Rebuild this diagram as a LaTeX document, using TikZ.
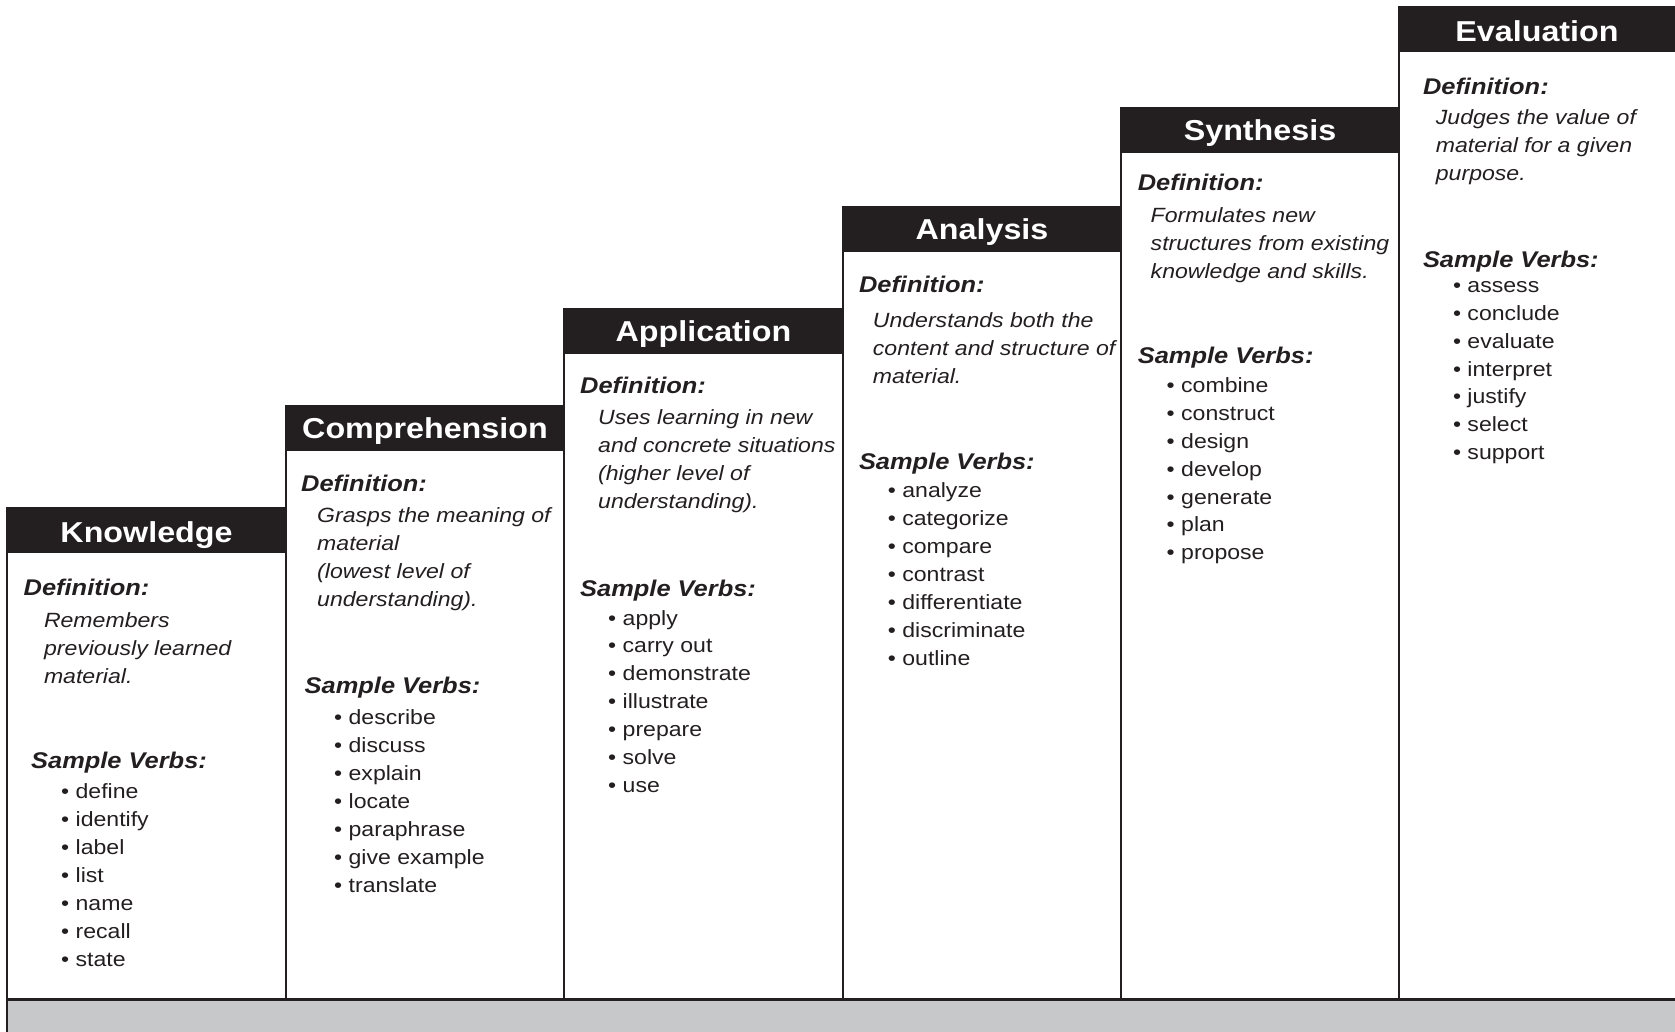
\documentclass[tikz,border=0pt]{standalone}
\usepackage{fontspec}
\setmainfont{Liberation Sans}[FakeStretch=1.12]
\definecolor{ink}{HTML}{231F20}
\definecolor{band}{HTML}{C7C8CA}
\tikzset{
  hdrbox/.style={fill=ink, draw=none},
  hdrtext/.style={text=white, font=\fontsize{28.8}{34}\selectfont\bfseries, inner sep=0pt, anchor=base, yshift=1.5pt},
  deflabel/.style={text=ink, font=\fontsize{22.7}{27}\selectfont\bfseries\itshape, inner sep=0pt, anchor=base west, yshift=-2pt},
  defbody/.style={text=ink, font=\fontsize{20.6}{28}\selectfont\itshape, inner sep=0pt, anchor=north west, align=left,
    execute at begin node={\rule{0pt}{0.8em}}, yshift=14.5pt},
  verblist/.style={text=ink, font=\fontsize{20.6}{27.95}\selectfont, inner sep=0pt, anchor=north west, align=left,
    execute at begin node={\rule{0pt}{0.8em}}, yshift=14.5pt},
  colline/.style={draw=ink, line width=2.5pt},
}
\begin{document}
\begin{tikzpicture}[x=1pt,y=-1pt]
\path[use as bounding box] (0,0) rectangle (1675,1032);
% grey band
\fill[band] (7,999) rectangle (1675,1032);
% headers
\fill[hdrbox] (7,507) rectangle (286,553);
\fill[hdrbox] (286,405) rectangle (564,451);
\fill[hdrbox] (564,308) rectangle (843,354);
\fill[hdrbox] (843,206) rectangle (1121,252);
\fill[hdrbox] (1121,107) rectangle (1399,153);
\fill[hdrbox] (1399,6) rectangle (1675,52);
% column lines
\coordinate (c1t) at (7,507);    \coordinate (c1b) at (7,1032);
\coordinate (c2t) at (286,405);  \coordinate (c2b) at (286,999);
\coordinate (c3t) at (564,308);  \coordinate (c3b) at (564,999);
\coordinate (c4t) at (843,206);  \coordinate (c4b) at (843,999);
\coordinate (c5t) at (1121,107); \coordinate (c5b) at (1121,999);
\coordinate (c6t) at (1399,6);   \coordinate (c6b) at (1399,999);
\coordinate (bandl) at (7,999);  \coordinate (bandr) at (1675,999);
\draw[colline] (c1t) -- (c1b);
\draw[colline] (c2t) -- (c2b);
\draw[colline] (c3t) -- (c3b);
\draw[colline] (c4t) -- (c4b);
\draw[colline] (c5t) -- (c5b);
\draw[colline] (c6t) -- (c6b);
\draw[colline, line width=3pt] (bandl) -- (bandr);
% header texts
\node[hdrtext] (h1) at (146.5,544) {Knowledge};
\node[hdrtext] (h2) at (425,440) {Comprehension};
\node[hdrtext] (h3) at (703.5,343) {Application};
\node[hdrtext] (h4) at (982,241) {Analysis};
\node[hdrtext] (h5) at (1260,142) {Synthesis};
\node[hdrtext] (h6) at (1537,43) {Evaluation};
% column 1
\node[deflabel] (d1) at (23.5,593) {Definition:};
\node[defbody] (b1) at (43.8,626.6) {Remembers\\previously learned\\material.};
\node[deflabel] (s1) at (31,766.4) {Sample Verbs:};
\node[verblist] (v1) at (61,798) {• define\\• identify\\• label\\• list\\• name\\• recall\\• state};
% column 2
\node[deflabel] (d2) at (301,489.8) {Definition:};
\node[defbody] (b2) at (317,521.9) {Grasps the meaning of\\material\\(lowest level of\\understanding).};
\node[deflabel] (s2) at (304.5,691.6) {Sample Verbs:};
\node[verblist] (v2) at (334,723.8) {• describe\\• discuss\\• explain\\• locate\\• paraphrase\\• give example\\• translate};
% column 3
\node[deflabel] (d3) at (580,391.5) {Definition:};
\node[defbody] (b3) at (598,423.6) {Uses learning in new\\and concrete situations\\(higher level of\\understanding).};
\node[deflabel] (s3) at (580,594.4) {Sample Verbs:};
\node[verblist] (v3) at (608,624.4) {• apply\\• carry out\\• demonstrate\\• illustrate\\• prepare\\• solve\\• use};
% column 4
\node[deflabel] (d4) at (858.8,290) {Definition:};
\node[defbody] (b4) at (872.7,326.4) {Understands both the\\content and structure of\\material.};
\node[deflabel] (s4) at (858.8,467.3) {Sample Verbs:};
\node[verblist] (v4) at (887.7,497.3) {• analyze\\• categorize\\• compare\\• contrast\\• differentiate\\• discriminate\\• outline};
% column 5
\node[deflabel] (d5) at (1137.6,188.5) {Definition:};
\node[defbody] (b5) at (1150.5,221.7) {Formulates new\\structures from existing\\knowledge and skills.};
\node[deflabel] (s5) at (1137.6,361.6) {Sample Verbs:};
\node[verblist] (v5) at (1166.5,391.6) {• combine\\• construct\\• design\\• develop\\• generate\\• plan\\• propose};
% column 6
\node[deflabel] (d6) at (1422.8,92.4) {Definition:};
\node[defbody] (b6) at (1435.7,123.4) {Judges the value of\\material for a given\\purpose.};
\node[deflabel] (s6) at (1422.8,265.4) {Sample Verbs:};
\node[verblist] (v6) at (1452.8,295.4) {• assess\\• conclude\\• evaluate\\• interpret\\• justify\\• select\\• support};
\end{tikzpicture}
\end{document}
